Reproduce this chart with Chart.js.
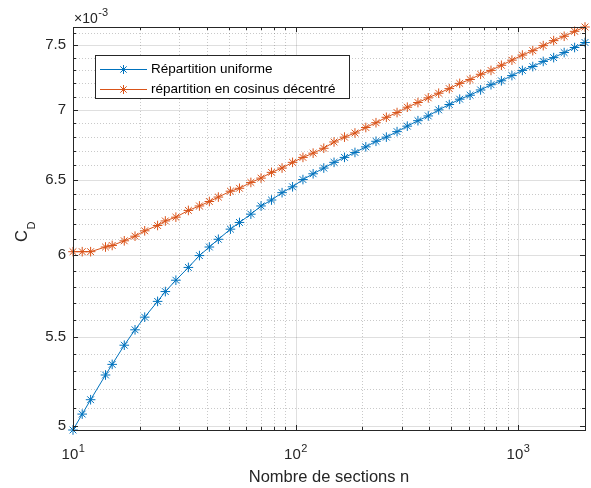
<!DOCTYPE html>
<html>
<head>
<meta charset="utf-8">
<script src="https://cdn.jsdelivr.net/npm/chart.js@4.4.1/dist/chart.umd.min.js"></script>
<style>
  html, body { margin: 0; padding: 0; background: #fff; }
  #wrap { width: 591px; height: 488px; }
</style>
</head>
<body>
<div id="wrap"><canvas id="cdChart" width="591" height="488"></canvas></div>
<script>
// Nombre de sections n (axe x, échelle log)
const nSections = [10, 11, 12, 14, 15, 17, 19, 21, 24, 26, 29, 33, 37, 41, 45, 51, 56, 63, 70, 78,
    87, 97, 108, 120, 134, 149, 166, 185, 207, 230, 256, 286, 318, 355, 395, 440, 491, 547, 609, 679,
    756, 842, 939, 1046, 1165, 1298, 1446, 1612, 1796, 2000];

// C_D, en unités de 1e-3
const cdUniforme = [4.98, 5.065, 5.143, 5.28, 5.34, 5.45, 5.54, 5.615, 5.71, 5.77, 5.84, 5.92, 5.995, 6.05, 6.10, 6.166, 6.21, 6.265, 6.32, 6.36,
    6.41, 6.45, 6.50, 6.54, 6.58, 6.62, 6.655, 6.69, 6.73, 6.77, 6.80, 6.84, 6.88, 6.92, 6.955, 7.00, 7.04, 7.08, 7.11, 7.15,
    7.19, 7.22, 7.26, 7.30, 7.33, 7.37, 7.40, 7.44, 7.48, 7.52];
const cdCosinus = [6.02, 6.02, 6.02, 6.05, 6.06, 6.09, 6.12, 6.155, 6.19, 6.22, 6.245, 6.29, 6.32, 6.35, 6.38, 6.42, 6.44, 6.48, 6.51, 6.55,
    6.58, 6.62, 6.655, 6.685, 6.72, 6.765, 6.80, 6.83, 6.87, 6.905, 6.945, 6.98, 7.02, 7.055, 7.09, 7.125, 7.16, 7.20, 7.23, 7.27,
    7.30, 7.34, 7.38, 7.42, 7.455, 7.495, 7.535, 7.57, 7.61, 7.645];

const seriesNames = ['Répartition uniforme', 'répartition en cosinus décentré'];

const xTicks = [10, 100, 1000];
const xTickExponents = ['1', '2', '3'];   // labels 10^1, 10^2, 10^3
const yTicks = [5, 5.5, 6, 6.5, 7, 7.5];
const yTickLabels = ['5', '5.5', '6', '6.5', '7', '7.5'];

const BLUE = '#0072BD';
const ORANGE = '#D95319';
const AXIS = '#262626';
const FONT = '"Liberation Sans", Arial, Helvetica, sans-serif';

Chart.defaults.font.family = FONT;
Chart.defaults.color = AXIS;

// minor tick positions (log axes)
function xMinor() {
    const out = [];
    for (let d = 10; d <= 1000; d *= 10) {
        for (let k = 2; k <= 9; k++) if (d * k <= 2000) out.push(d * k);
    }
    return out;
}
function yMinor() {
    const out = [];
    for (let i = 50; i <= 76; i++) if (i % 5 !== 0) out.push(i / 10);
    return out;
}

const matlabAxes = {
    id: 'matlabAxes',
    beforeDatasetsDraw(chart) {
        const { ctx, chartArea: a, scales } = chart;
        const xs = scales.x, ys = scales.y;
        ctx.save();
        ctx.lineWidth = 1;
        // minor grid, dotted
        ctx.strokeStyle = 'rgba(38,38,38,0.25)';
        ctx.setLineDash([1, 2]);
        xMinor().forEach(v => {
            const px = Math.round(xs.getPixelForValue(v)) + 0.5;
            ctx.beginPath(); ctx.moveTo(px, a.top); ctx.lineTo(px, a.bottom); ctx.stroke();
        });
        yMinor().forEach(v => {
            const py = Math.round(ys.getPixelForValue(v)) + 0.5;
            ctx.beginPath(); ctx.moveTo(a.left, py); ctx.lineTo(a.right, py); ctx.stroke();
        });
        // major grid
        ctx.setLineDash([]);
        ctx.strokeStyle = 'rgba(38,38,38,0.15)';
        xTicks.forEach(v => {
            const px = Math.round(xs.getPixelForValue(v)) + 0.5;
            ctx.beginPath(); ctx.moveTo(px, a.top); ctx.lineTo(px, a.bottom); ctx.stroke();
        });
        yTicks.forEach(v => {
            const py = Math.round(ys.getPixelForValue(v)) + 0.5;
            ctx.beginPath(); ctx.moveTo(a.left, py); ctx.lineTo(a.right, py); ctx.stroke();
        });
        ctx.restore();
    },
    afterDatasetsDraw(chart) {
        const { ctx, chartArea: a, scales } = chart;
        const xs = scales.x, ys = scales.y;
        ctx.save();
        ctx.strokeStyle = AXIS;
        ctx.lineWidth = 1;
        // box
        ctx.strokeRect(Math.round(a.left) + 0.5, Math.round(a.top) + 0.5,
            Math.round(a.right - a.left), Math.round(a.bottom - a.top));

        // ticks pointing inward, on all four sides
        const tickX = (v, len) => {
            const px = Math.round(xs.getPixelForValue(v)) + 0.5;
            ctx.beginPath();
            ctx.moveTo(px, a.bottom); ctx.lineTo(px, a.bottom - len);
            ctx.moveTo(px, a.top); ctx.lineTo(px, a.top + len);
            ctx.stroke();
        };
        const tickY = (v, len) => {
            const py = Math.round(ys.getPixelForValue(v)) + 0.5;
            ctx.beginPath();
            ctx.moveTo(a.left, py); ctx.lineTo(a.left + len, py);
            ctx.moveTo(a.right, py); ctx.lineTo(a.right - len, py);
            ctx.stroke();
        };
        xTicks.forEach(v => tickX(v, 5));
        xMinor().forEach(v => tickX(v, 3));
        yTicks.forEach(v => tickY(v, 5));
        yMinor().forEach(v => tickY(v, 3));

        ctx.fillStyle = AXIS;
        ctx.textBaseline = 'alphabetic';
        ctx.textAlign = 'left';

        // x tick labels 10^k, centred on the scale's ticks
        xs.ticks.forEach((t, i) => {
            const px = xs.getPixelForValue(t.value);
            ctx.font = '15px ' + FONT;
            const wb = ctx.measureText('10').width;
            ctx.font = '11px ' + FONT;
            const we = ctx.measureText(xTickExponents[i]).width;
            const x0 = px - (wb + we) / 2;
            ctx.font = '15px ' + FONT;
            ctx.fillText('10', x0, 458.5);
            ctx.font = '11px ' + FONT;
            ctx.fillText(xTickExponents[i], x0 + wb + 0.5, 452);
        });

        // exponent ×10^-3
        ctx.font = '14px ' + FONT;
        ctx.fillText('×10', a.left + 1, 23);
        const w = ctx.measureText('×10').width;
        ctx.font = '11px ' + FONT;
        ctx.fillText('-3', a.left + 1 + w + 0.5, 15.5);

        // y title C_D
        ctx.save();
        ctx.translate(27, 242);
        ctx.rotate(-Math.PI / 2);
        ctx.font = '16.5px ' + FONT;
        ctx.fillText('C', 0, 0);
        const cw = ctx.measureText('C').width;
        ctx.font = '11px ' + FONT;
        ctx.fillText('D', cw + 0.5, 8);
        ctx.restore();

        // legend
        const lx = 95, ly = 55, lw = 254, lh = 43;
        ctx.fillStyle = '#fff';
        ctx.fillRect(lx, ly, lw, lh);
        ctx.strokeStyle = AXIS;
        ctx.strokeRect(lx + 0.5, ly + 0.5, lw, lh);
        const rows = [
            { label: seriesNames[0], color: BLUE, y: 69 },
            { label: seriesNames[1], color: ORANGE, y: 89 }
        ];
        rows.forEach(r => {
            ctx.strokeStyle = r.color;
            ctx.lineWidth = 1;
            ctx.beginPath(); ctx.moveTo(100, r.y + 0.5); ctx.lineTo(147, r.y + 0.5); ctx.stroke();
            Chart.helpers.drawPoint(ctx, { pointStyle: 'star', radius: 4.5, borderWidth: 1 }, 123.5, r.y + 0.5);
            ctx.fillStyle = '#000';
            ctx.font = '13.5px ' + FONT;
            ctx.textBaseline = 'middle';
            ctx.fillText(r.label, 151, r.y + 0.5);
        });
        ctx.restore();
    }
};

function makeSeries(values) {
    return nSections.map((n, i) => ({ x: n, y: values[i] }));
}

const ctx = document.getElementById('cdChart');
new Chart(ctx, {
    type: 'line',
    data: {
        datasets: [
            {
                label: seriesNames[0],
                data: makeSeries(cdUniforme),
                borderColor: BLUE,
                backgroundColor: BLUE,
                borderWidth: 1,
                pointStyle: 'star',
                pointRadius: 4.8,
                pointBorderWidth: 1,
                pointBorderColor: BLUE,
                tension: 0,
                clip: false
            },
            {
                label: seriesNames[1],
                data: makeSeries(cdCosinus),
                borderColor: ORANGE,
                backgroundColor: ORANGE,
                borderWidth: 1,
                pointStyle: 'star',
                pointRadius: 4.8,
                pointBorderWidth: 1,
                pointBorderColor: ORANGE,
                tension: 0,
                clip: false
            }
        ]
    },
    options: {
        responsive: false,
        animation: false,
        events: [],
        layout: { padding: { left: 0, top: 27, right: 6, bottom: 0 } },
        plugins: {
            legend: { display: false },
            tooltip: { enabled: false }
        },
        scales: {
            x: {
                type: 'logarithmic',
                min: 10,
                max: 2000,
                afterBuildTicks: s => { s.ticks = xTicks.map(v => ({ value: v })); },
                afterFit: s => { s.height = 58; },
                ticks: { display: false },
                grid: { display: false, drawTicks: false },
                border: { display: false },
                title: {
                    display: true,
                    text: 'Nombre de sections n',
                    font: { size: 16.5 },
                    color: AXIS,
                    padding: { top: 0, bottom: 1 }
                }
            },
            y: {
                type: 'logarithmic',
                min: 4.98,
                max: 7.645,
                afterBuildTicks: s => { s.ticks = yTicks.map(v => ({ value: v })); },
                afterFit: s => { s.width = 73; },
                ticks: {
                    callback: (v, i) => yTickLabels[i],
                    font: { size: 15 },
                    color: AXIS,
                    padding: 7,
                    autoSkip: false
                },
                grid: { display: false, drawTicks: false },
                border: { display: false }
            }
        }
    },
    plugins: [matlabAxes]
});
</script>
</body>
</html>
